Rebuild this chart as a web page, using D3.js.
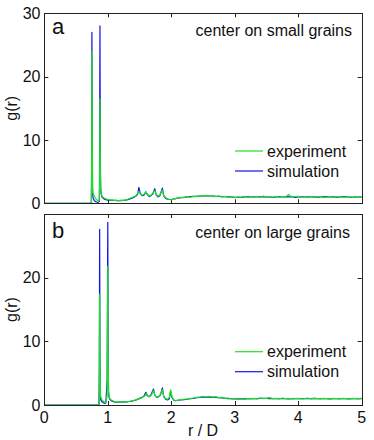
<!DOCTYPE html>
<html><head><meta charset="utf-8">
<script src="https://cdn.jsdelivr.net/npm/d3@7"></script>
<style>body{margin:0;background:#fff}svg{display:block;font-family:"Liberation Sans",Arial,sans-serif}</style>
</head><body>
<svg id="c" width="374" height="440"></svg>
<script>
const xTicks = [0, 1, 2, 3, 4, 5];
const yTicksA = [0, 10, 20, 30];
const yTicksB = [0, 10, 20];
const seriesNames = ["experiment", "simulation"];
const panelLetters = ["a", "b"];
const panelTitles = ["center on small grains", "center on large grains"];

const tailR = [2.10,2.15,2.20,2.25,2.30,2.35,2.40,2.45,2.50,2.55,
  2.60,2.65,2.70,2.75,2.80,2.85,2.90,2.95,3.00,3.05,
  3.10,3.15,3.20,3.25,3.30,3.35,3.40,3.45,3.50,3.55,
  3.60,3.65,3.70,3.75,3.80,3.85,3.90,3.95,4.00,4.05,
  4.10,4.15,4.20,4.25,4.30,4.35,4.40,4.45,4.50,4.55,
  4.60,4.65,4.70,4.75,4.80,4.85,4.90,4.95,5.00];

// panel a: center on small grains
const aExpPeak = [[0,0],[0.745,0],[0.750,24],[0.756,9],[0.762,2.5],[0.768,1.6],[0.78,1.3],[0.80,0.9],[0.82,0.6],[0.845,0.4],[0.865,0.4],[0.872,3],[0.877,16.5],[0.883,5],[0.89,2.0],[0.90,1.4],[0.92,1.0],[0.95,0.8],[0.98,0.65],[1.01,0.6],[1.04,0.5],[1.07,0.55],[1.10,0.45],[1.13,0.5],[1.16,0.4],[1.19,0.45],[1.22,0.5],[1.25,0.45],[1.28,0.55],[1.31,0.6],[1.34,0.75],[1.37,0.85],[1.40,1.0],[1.43,1.1],[1.46,1.4],[1.49,1.9],[1.51,1.5],[1.54,1.3],[1.57,1.4],[1.60,1.8],[1.62,1.5],[1.65,1.2],[1.68,1.3],[1.71,1.6],[1.74,2.0],[1.76,1.5],[1.79,1.1],[1.82,1.3],[1.86,2.1],[1.88,1.3],[1.91,0.9],[1.94,0.7],[1.97,0.6],[2.00,0.55],[2.05,0.7]];
const aExpTail = [0.85,0.95,0.9,1.05,0.95,1.1,1.05,1.2,1.1,1.25,
  1.15,1.2,1.05,1.15,1.0,1.1,0.95,1.05,0.9,1.0,
  0.95,1.1,0.95,1.05,1.0,1.1,0.95,1.15,1.0,1.05,
  0.95,1.1,0.95,1.05,1.0,1.4,0.95,1.05,1.1,0.95,
  1.05,1.0,1.1,0.95,1.0,1.05,0.9,1.0,1.05,0.95,
  1.0,1.05,0.95,1.0,1.05,0.95,1.0,1.05,1.0];
const aSimPeak = [[0,0],[0.74,0],[0.745,5],[0.75,27],[0.755,6],[0.76,1.5],[0.77,0.8],[0.79,0.4],[0.82,0.2],[0.85,0.15],[0.868,0.3],[0.872,10],[0.877,28],[0.882,8],[0.888,2.5],[0.895,1.5],[0.91,1.0],[0.94,0.7],[0.98,0.55],[1.02,0.5],[1.06,0.45],[1.10,0.45],[1.15,0.4],[1.20,0.4],[1.25,0.45],[1.30,0.55],[1.35,0.7],[1.40,0.9],[1.44,1.1],[1.47,1.4],[1.49,2.5],[1.51,1.6],[1.54,1.2],[1.57,1.3],[1.60,1.8],[1.62,1.4],[1.65,1.1],[1.68,1.2],[1.71,1.5],[1.74,2.3],[1.76,1.4],[1.79,1.0],[1.82,1.2],[1.86,2.4],[1.88,1.2],[1.91,0.8],[1.94,0.65],[1.97,0.6],[2.00,0.6],[2.05,0.7]];
const aSimTail = [0.8,0.9,0.95,1.0,1.05,1.1,1.1,1.15,1.15,1.2,
  1.15,1.15,1.1,1.1,1.05,1.05,1.0,1.0,0.95,0.95,
  0.95,1.0,1.0,1.05,1.0,1.0,1.0,1.05,1.0,1.0,
  0.95,1.0,1.0,1.0,1.05,1.0,1.0,0.95,1.0,1.0,
  1.0,1.05,1.0,1.0,0.95,1.0,1.0,1.05,1.0,1.0,
  0.95,1.0,1.0,1.05,1.0,0.95,1.0,1.0,1.0];

// panel b: center on large grains
const bExpPeak = [[0,0],[0.865,0],[0.872,17.4],[0.877,6],[0.882,2.0],[0.89,1.2],[0.91,0.8],[0.94,0.5],[0.97,0.4],[0.99,1.5],[1.0,21.8],[1.006,7],[1.012,2.2],[1.02,1.3],[1.04,0.9],[1.07,0.7],[1.10,0.55],[1.13,0.5],[1.16,0.45],[1.20,0.5],[1.24,0.45],[1.28,0.5],[1.32,0.55],[1.36,0.6],[1.40,0.7],[1.44,0.8],[1.48,1.0],[1.50,0.95],[1.53,1.1],[1.56,1.3],[1.59,1.5],[1.61,1.9],[1.63,1.4],[1.66,1.3],[1.69,1.6],[1.72,2.3],[1.74,1.6],[1.77,1.2],[1.80,1.3],[1.83,1.7],[1.86,2.4],[1.88,1.4],[1.91,1.0],[1.94,0.9],[1.97,1.2],[1.99,2.4],[2.01,1.3],[2.04,0.8],[2.07,0.7]];
const bExpTail = [0.75,0.85,0.9,0.95,1.05,1.1,1.2,1.25,1.35,1.3,
  1.35,1.25,1.3,1.15,1.2,1.05,1.1,0.95,1.0,0.9,
  0.95,0.9,1.0,0.95,1.05,0.95,1.1,1.0,1.05,1.15,
  1.0,1.05,0.95,1.1,1.0,1.05,0.95,1.0,1.05,0.95,
  1.0,1.1,0.95,1.05,1.0,0.95,1.05,1.0,0.95,1.05,
  1.0,0.95,1.05,1.0,0.95,1.05,1.0,0.95,1.05];
const bSimPeak = [[0,0],[0.862,0],[0.867,6],[0.872,27.6],[0.877,7],[0.882,1.5],[0.89,0.8],[0.91,0.5],[0.94,0.3],[0.97,0.3],[0.99,4],[1.0,28.7],[1.006,8],[1.012,2.0],[1.02,1.2],[1.04,0.8],[1.07,0.6],[1.10,0.5],[1.14,0.45],[1.18,0.45],[1.22,0.45],[1.26,0.5],[1.30,0.5],[1.34,0.55],[1.38,0.6],[1.42,0.7],[1.46,0.85],[1.49,1.0],[1.51,1.1],[1.54,1.2],[1.57,1.4],[1.60,2.0],[1.62,1.5],[1.65,1.3],[1.68,1.6],[1.72,2.5],[1.74,1.6],[1.77,1.2],[1.80,1.3],[1.83,1.6],[1.86,2.7],[1.88,1.4],[1.91,0.9],[1.94,0.8],[1.97,1.0],[1.99,2.2],[2.01,1.2],[2.04,0.75],[2.07,0.7]];
const bSimTail = [0.75,0.8,0.85,0.9,1.0,1.05,1.15,1.2,1.25,1.25,
  1.25,1.2,1.2,1.15,1.1,1.05,1.0,1.0,0.95,0.95,
  0.95,0.95,1.0,1.0,1.0,1.0,1.05,1.05,1.05,1.0,
  1.0,1.0,1.0,1.0,1.0,0.95,1.0,1.0,1.0,1.0,
  1.0,1.0,1.0,1.05,1.0,1.0,1.0,1.0,0.95,1.0,
  1.0,1.0,1.0,1.0,0.95,1.0,1.0,1.0,1.0];

const colors = {experiment: "#19e619", simulation: "#1414e6"};
const join = (peak, tail) => peak.concat(tailR.map((r, i) => [r, tail[i]]));

const panels = [
  {top: 13.3, bottom: 203.3, yTicks: yTicksA, xLabels: false, legendY: 151,
   exp: join(aExpPeak, aExpTail), sim: join(aSimPeak, aSimTail), letterY: 34, titleY: 36, titleX: 352},
  {top: 214, bottom: 405, yTicks: yTicksB, xLabels: true, legendY: 351.7,
   exp: join(bExpPeak, bExpTail), sim: join(bSimPeak, bSimTail), letterY: 238, titleY: 238.3, titleX: 350}
];

const svg = d3.select("#c");
const x = d3.scaleLinear().domain([0, 5]).range([44.3, 361.7]);
const axisColor = "#222";

panels.forEach((p, pi) => {
  const y = d3.scaleLinear().domain([0, 30]).range([p.bottom, p.top]);
  const g = svg.append("g");
  const tl = 4;
  const xt = g.append("g").attr("stroke", axisColor).attr("stroke-width", 1);
  xTicks.forEach(t => {
    const xx = Math.round(x(t)) + 0.5;
    xt.append("line").attr("x1", xx).attr("x2", xx).attr("y1", y(0)).attr("y2", y(0) - tl);
    xt.append("line").attr("x1", xx).attr("x2", xx).attr("y1", y(30)).attr("y2", y(30) + tl);
  });
  p.yTicks.forEach(t => {
    const yy = Math.round(y(t)) + 0.5;
    xt.append("line").attr("x1", x(0)).attr("x2", x(0) + tl).attr("y1", yy).attr("y2", yy);
    xt.append("line").attr("x1", x(5)).attr("x2", x(5) - tl).attr("y1", yy).attr("y2", yy);
  });
  g.append("g").selectAll("text").data(p.yTicks).join("text")
    .attr("x", 40.5).attr("y", d => y(d)).attr("dy", "0.36em")
    .attr("text-anchor", "end").attr("font-size", 16).attr("fill", "#111").text(d => d);
  if (p.xLabels) {
    g.append("g").selectAll("text").data(xTicks).join("text")
      .attr("x", d => x(d)).attr("y", 423.3)
      .attr("text-anchor", "middle").attr("font-size", 16).attr("fill", "#111").text(d => d);
  }
  const line = d3.line().x(d => x(d[0])).y(d => y(d[1]));
  g.append("path").datum(p.sim).attr("d", line).attr("fill", "none")
    .attr("stroke", colors.simulation).attr("stroke-width", 1.2).attr("stroke-linejoin", "round");
  g.append("path").datum(p.exp).attr("d", line).attr("fill", "none")
    .attr("stroke", colors.experiment).attr("stroke-width", 1.2).attr("stroke-linejoin", "round");
  g.append("rect").attr("x", Math.round(x(0)) + 0.5).attr("y", Math.round(y(30)) + 0.5)
    .attr("width", Math.round(x(5)) - Math.round(x(0)))
    .attr("height", Math.round(y(0)) - Math.round(y(30)))
    .attr("fill", "none").attr("stroke", axisColor).attr("stroke-width", 1);
  g.append("text").attr("x", 52).attr("y", p.letterY).attr("font-size", 22).attr("fill", "#111").text(panelLetters[pi]);
  g.append("text").attr("x", p.titleX).attr("y", p.titleY).attr("text-anchor", "end")
    .attr("font-size", 16).attr("fill", "#111").text(panelTitles[pi]);
  seriesNames.forEach((name, i) => {
    const ly = p.legendY + i * 20;
    g.append("line").attr("x1", 235).attr("x2", 263).attr("y1", ly).attr("y2", ly)
      .attr("stroke", colors[name]).attr("stroke-width", 1.2);
    g.append("text").attr("x", 267).attr("y", ly).attr("dy", "0.36em")
      .attr("font-size", 16).attr("fill", "#111").text(name);
  });
  g.append("text").attr("transform", `translate(17,${(p.top + p.bottom) / 2}) rotate(-90)`)
    .attr("text-anchor", "middle").attr("font-size", 16).attr("fill", "#111").text("g(r)");
});

svg.append("text").attr("x", 203).attr("y", 436).attr("text-anchor", "middle")
  .attr("font-size", 16).attr("fill", "#111").text("r / D");
</script>
</body></html>
